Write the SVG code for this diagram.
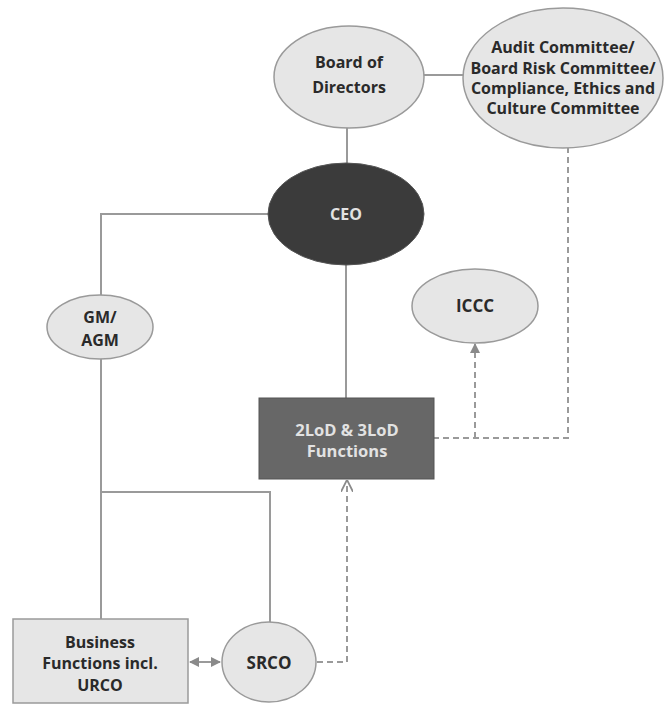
<svg xmlns="http://www.w3.org/2000/svg" width="665" height="704" viewBox="0 0 665 704">
<style>
.lt{fill:#e6e6e6;stroke:#9a9a9a;stroke-width:1.5}
.t{font-family:"Open Sans","Liberation Sans",sans-serif;font-weight:bold;font-size:16px;fill:#2a2a2a;text-anchor:middle}
.w{fill:#e2e2e2}
.c{fill:none;stroke:#9a9a9a;stroke-width:2}
.d{fill:none;stroke:#9a9a9a;stroke-width:2;stroke-dasharray:6,4}
</style>
<defs>
<marker id="tri" viewBox="0 0 10 10" refX="9" refY="5" markerWidth="5" markerHeight="5" orient="auto-start-reverse"><path d="M0,0L10,5L0,10z" fill="#8a8a8a"/></marker>
<marker id="open" viewBox="0 0 10 10" refX="9" refY="5" markerWidth="6" markerHeight="6" orient="auto"><path d="M0,0L10,5L0,10" fill="none" stroke="#8a8a8a" stroke-width="1.5"/></marker>
</defs>
<rect width="665" height="704" fill="#fff"/>
<g id="connectors">
<line class="c" x1="423" y1="75" x2="463" y2="75"/>
<line class="c" x1="347" y1="127" x2="347" y2="164"/>
<polyline class="c" points="270,214 101,214 101,296"/>
<line class="c" x1="346" y1="264" x2="346" y2="398"/>
<line class="c" x1="101" y1="358" x2="101" y2="619"/>
<polyline class="c" points="101,492 270,492 270,624"/>
<polyline class="d" points="433,438 568,438 568,148"/>
<line class="d" x1="475" y1="438" x2="475" y2="344" marker-end="url(#tri)"/>
<polyline class="d" points="317,662 347,662 347,481" marker-end="url(#open)"/>
<line class="c" x1="190" y1="662" x2="220" y2="662" marker-start="url(#tri)" marker-end="url(#tri)"/>
</g>
<g id="board">
<ellipse class="lt" cx="349" cy="77" rx="75" ry="51"/>
<text class="t" x="349" y="68">Board of</text>
<text class="t" x="349" y="93">Directors</text>
</g>
<g id="audit">
<ellipse class="lt" cx="563" cy="78" rx="100" ry="70"/>
<text class="t" x="563" y="53">Audit Committee/</text>
<text class="t" x="563" y="74">Board Risk Committee/</text>
<text class="t" x="563" y="94">Compliance, Ethics and</text>
<text class="t" x="563" y="114">Culture Committee</text>
</g>
<g id="ceo">
<ellipse cx="346" cy="214" rx="78" ry="51" fill="#3b3b3b" stroke="#555" stroke-width="1"/>
<text class="t w" x="346" y="220" style="font-size:16px">CEO</text>
</g>
<g id="gm">
<ellipse class="lt" cx="100" cy="327" rx="53" ry="32"/>
<text class="t" x="100" y="323">GM/</text>
<text class="t" x="100" y="346">AGM</text>
</g>
<g id="iccc">
<ellipse class="lt" cx="475" cy="306" rx="63" ry="37"/>
<text class="t" x="475" y="312" style="font-size:17px">ICCC</text>
</g>
<g id="lod">
<rect x="259" y="398" width="175" height="81" fill="#676767" stroke="#555" stroke-width="1"/>
<text class="t w" x="347" y="436" style="font-size:16.5px">2LoD &amp; 3LoD</text>
<text class="t w" x="347" y="457" style="font-size:16.5px">Functions</text>
</g>
<g id="business">
<rect class="lt" x="13" y="619" width="175" height="84"/>
<text class="t" x="100" y="648">Business</text>
<text class="t" x="100" y="669">Functions incl.</text>
<text class="t" x="100" y="691">URCO</text>
</g>
<g id="srco">
<ellipse class="lt" cx="269" cy="662" rx="47" ry="40"/>
<text class="t" x="269" y="669" style="font-size:17px">SRCO</text>
</g>
</svg>
